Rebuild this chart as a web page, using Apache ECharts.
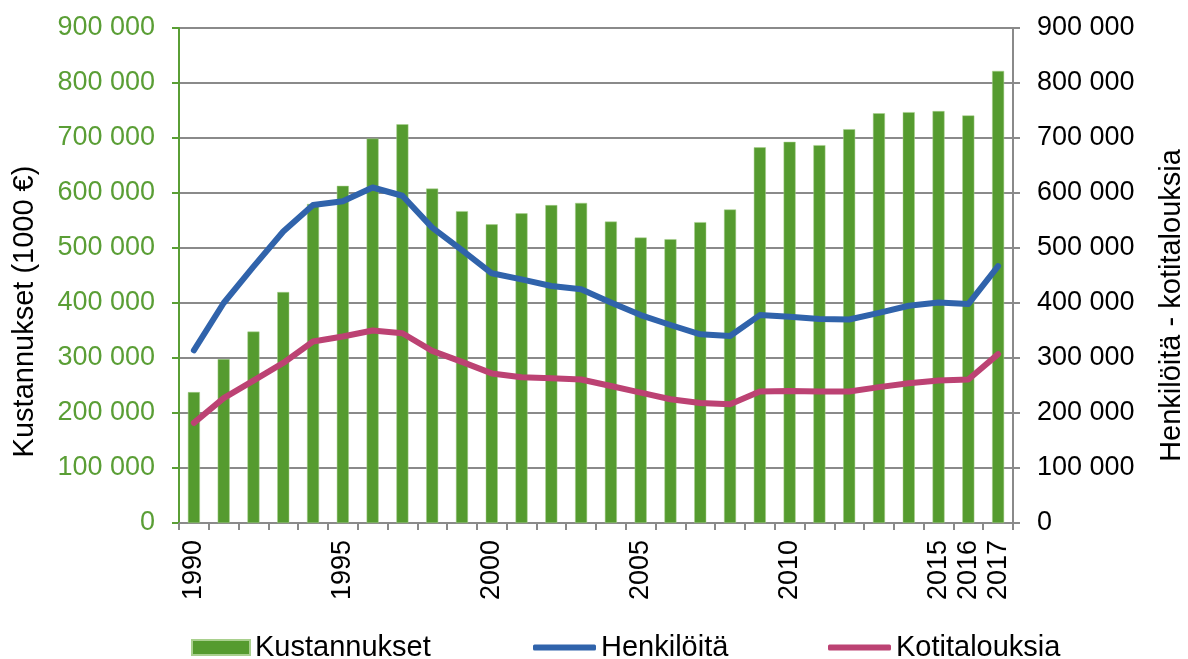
<!DOCTYPE html>
<html>
<head>
<meta charset="utf-8">
<script src="https://cdn.jsdelivr.net/npm/echarts@6/dist/echarts.min.js"></script>
<style>
    html, body { margin: 0; padding: 0; background: #fff; }
    #chart { width: 1188px; height: 659px; }
</style>
</head>
<body>
<div id="chart"></div>
<script>
// vuodet
const years = ['1990','1991','1992','1993','1994','1995','1996','1997','1998','1999',
    '2000','2001','2002','2003','2004','2005','2006','2007','2008','2009',
    '2010','2011','2012','2013','2014','2015','2016','2017'];
// näytettävät vuosiluvut x-akselilla
const shownYears = ['1990','1995','2000','2005','2010','2015','2016','2017'];
// Kustannukset (1000 €)
const kustannukset = [238000, 298000, 348000, 420000, 580000, 613000, 699000, 725000, 608000, 567000,
    543000, 563000, 578000, 582000, 548000, 519000, 516000, 547000, 570000, 683000,
    693000, 687000, 716000, 745000, 747000, 749000, 741000, 822000];
const henkiloita = [314000, 400000, 466000, 530000, 578000, 585000, 610000, 595000, 537000, 496000,
    454000, 443000, 431000, 425000, 401000, 378000, 360000, 343000, 340000, 378000,
    375000, 371000, 370000, 382000, 395000, 401000, 398000, 467000];
const kotitalouksia = [182000, 227000, 259000, 291000, 330000, 339000, 350000, 345000, 313000, 293000,
    272000, 265000, 263000, 261000, 249000, 237000, 225000, 218000, 216000, 239000,
    240000, 239000, 239000, 247000, 254000, 259000, 261000, 307000];

const green = '#559B2F';
const blue = '#3063AB';
const pink = '#BC4273';
const font = "'Liberation Sans', Arial, sans-serif";

const fmt = v => String(v).replace(/\B(?=(\d{3})+(?!\d))/g, ' ');

const myChart = echarts.init(document.getElementById('chart'));

let legendBase = {
    top: 633,
    textStyle: { fontFamily: font, fontSize: 29, color: '#000' },
    itemGap: 0,
    padding: 0
};

let option = {
    animation: false,
    textStyle: { fontFamily: font },
    grid: { left: 179, right: 175, top: 28, bottom: 136, outerBoundsMode: 'none', containLabel: false },
    legend: [
        Object.assign({}, legendBase, {
            left: 191, data: ['Kustannukset'], icon: 'rect', itemWidth: 58, itemHeight: 15
        }),
        Object.assign({}, legendBase, {
            left: 533, data: ['Henkilöitä'], icon: 'roundRect', itemWidth: 63, itemHeight: 6
        }),
        Object.assign({}, legendBase, {
            left: 828, data: ['Kotitalouksia'], icon: 'roundRect', itemWidth: 63, itemHeight: 6
        })
    ],
    xAxis: {
        type: 'category',
        data: years,
        axisLine: { lineStyle: { color: '#8a8a8a', width: 2 } },
        axisTick: { show: true, interval: 0, length: 7, lineStyle: { color: '#8a8a8a', width: 2 } },
        axisLabel: {
            rotate: 90,
            margin: 17,
            fontSize: 27,
            color: '#000',
            fontFamily: font,
            interval: (i, v) => shownYears.includes(v)
        }
    },
    yAxis: [{
        type: 'value',
        min: 0, max: 900000, interval: 100000,
        name: 'Kustannukset (1000 €)',
        nameLocation: 'middle',
        nameRotate: 90,
        nameGap: 140,
        nameTextStyle: { fontSize: 29, color: '#000', fontFamily: font, padding: [0, 72, 0, 0] },
        axisLine: { show: true, lineStyle: { color: '#5A9E35', width: 2 } },
        axisTick: { show: true, length: 7, lineStyle: { color: '#5A9E35', width: 2 } },
        axisLabel: { margin: 24, fontSize: 27, color: '#5A9E35', fontFamily: font, formatter: fmt },
        splitLine: { lineStyle: { color: '#8a8a8a', width: 2 } }
    }, {
        type: 'value',
        position: 'right',
        min: 0, max: 900000, interval: 100000,
        name: 'Henkilöitä - kotitalouksia',
        nameLocation: 'middle',
        nameRotate: 90,
        nameGap: 144,
        nameTextStyle: { fontSize: 29, color: '#000', fontFamily: font, padding: [0, 60, 0, 0] },
        axisLine: { show: true, lineStyle: { color: '#8a8a8a', width: 2 } },
        axisTick: { show: true, length: 7, lineStyle: { color: '#8a8a8a', width: 2 } },
        axisLabel: { margin: 24, fontSize: 27, color: '#000', fontFamily: font, formatter: fmt },
        splitLine: { show: false }
    }],
    series: [{
        name: 'Kustannukset',
        type: 'bar',
        data: kustannukset,
        barWidth: 12,
        itemStyle: { color: green, borderColor: '#A9D08E', borderWidth: 0.5 }
    }, {
        name: 'Henkilöitä',
        type: 'line',
        yAxisIndex: 1,
        data: henkiloita,
        symbol: 'none',
        lineStyle: { color: blue, width: 6, cap: 'round', join: 'round' },
        itemStyle: { color: blue }
    }, {
        name: 'Kotitalouksia',
        type: 'line',
        yAxisIndex: 1,
        data: kotitalouksia,
        symbol: 'none',
        lineStyle: { color: pink, width: 6, cap: 'round', join: 'round' },
        itemStyle: { color: pink }
    }]
};
myChart.setOption(option);
</script>
</body>
</html>
